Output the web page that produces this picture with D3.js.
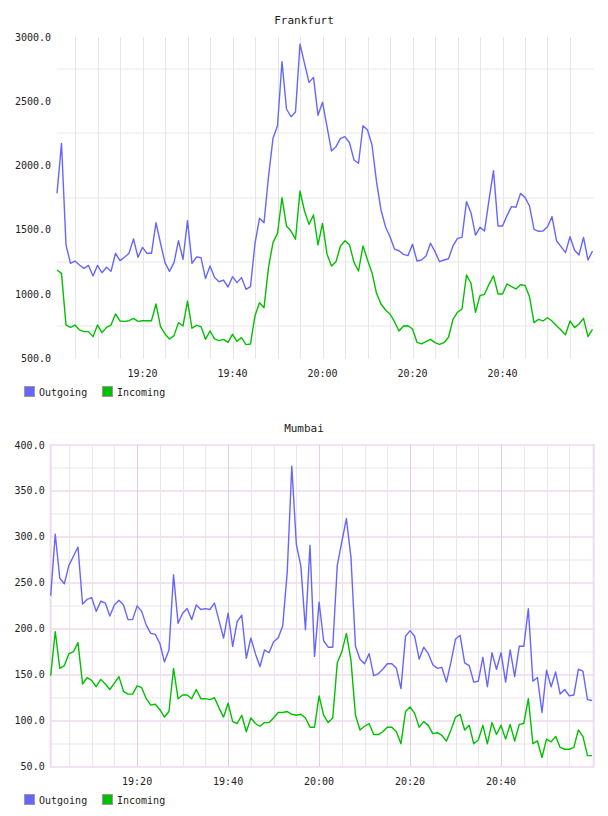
<!DOCTYPE html>
<html><head><meta charset="utf-8">
<script src="https://cdn.jsdelivr.net/npm/d3@7/dist/d3.min.js"></script>
<style>body{margin:0;background:#fff}svg{display:block}text{font-family:"DejaVu Sans Mono",monospace;fill:#222}</style>
</head><body>
<svg id="c" width="608" height="816"></svg>
<script>
const startTime = new Date(2020, 0, 1, 19, 1);
const seriesNames = ["Outgoing", "Incoming"];
const seriesColors = ["#6666ff", "#00c000"];

const frankfurtTicks = [500, 1000, 1500, 2000, 2500, 3000];
const mumbaiTicks = [50, 100, 150, 200, 250, 300, 350, 400];
const timeLabels = ["19:20", "19:40", "20:00", "20:20", "20:40"];

const frankfurtOut = [1784,2173,1383,1240,1258,1227,1201,1224,1142,1224,
1167,1209,1178,1318,1261,1287,1318,1429,1287,1364,
1318,1318,1556,1396,1245,1178,1245,1416,1271,1572,
1240,1289,1284,1121,1219,1131,1097,1110,1056,1136,
1090,1129,1038,1059,1396,1590,1556,1914,2212,2310,
2808,2440,2380,2417,2945,2795,2647,2686,2391,2493,
2303,2114,2147,2212,2225,2178,2044,2018,2310,2277,
2160,1875,1655,1525,1447,1351,1338,1310,1300,1388,
1258,1266,1297,1396,1331,1253,1266,1276,1375,1434,
1442,1720,1634,1460,1520,1491,1733,1961,1530,1530,
1611,1681,1676,1784,1753,1686,1504,1489,1491,1525,
1603,1416,1370,1323,1447,1344,1305,1442,1266,1336];

const frankfurtIn = [1188,1162,760,742,760,722,709,709,670,760,
701,742,760,846,792,789,794,812,789,794,
794,794,924,748,691,652,678,779,753,947,
735,758,748,649,714,652,639,649,626,688,
634,662,608,613,833,934,895,1209,1401,1473,
1751,1530,1491,1427,1802,1647,1543,1616,1383,1551,
1313,1219,1253,1375,1416,1383,1248,1180,1375,1266,
1167,1007,924,877,846,786,714,753,755,729,
626,613,631,649,623,610,623,665,804,860,
885,1149,1085,859,989,999,1077,1142,1002,1002,
1080,1059,1041,1074,1069,981,779,804,792,817,
792,755,722,685,792,740,768,812,670,727];

const mumbaiOut = [236,303,255,249,269,279,289,227,232,234,
219,230,228,214,226,231,226,210,210,225,
219,204,195,194,184,164,177,259,206,217,
222,210,226,221,222,221,228,209,190,217,
181,208,215,168,190,173,159,177,174,186,
190,203,262,377,292,268,199,291,170,229,
187,180,180,269,295,320,278,181,167,162,
173,149,151,156,162,162,157,135,192,198,
192,167,180,173,161,157,158,142,164,189,
193,163,160,142,143,169,137,174,156,174,
142,177,148,181,181,222,143,147,109,155,
137,153,129,134,127,128,156,154,123,122];

const mumbaiIn = [149,197,157,160,173,175,185,140,147,144,
137,145,140,134,141,148,132,129,129,138,
136,124,117,118,112,104,110,157,124,128,
128,124,134,124,124,123,125,114,104,119,
99,97,106,88,103,97,94,98,98,103,
109,109,110,107,106,107,103,93,93,127,
106,98,103,163,175,195,166,106,90,94,
97,85,85,88,93,93,88,75,110,115,
108,93,99,95,86,87,84,78,90,104,
107,90,95,75,79,95,75,98,85,95,
80,96,78,96,97,124,75,78,60,80,
77,83,71,69,69,71,90,83,62,62];

const svg = d3.select("#c");
const minute = 60000;
const times = frankfurtOut.map((_, i) => new Date(startTime.getTime() + i * minute));
const lastTime = times[times.length - 1];

function drawChart(cfg) {
  const g = svg.append("g");
  const x = d3.scaleTime()
    .domain([startTime, lastTime])
    .range([cfg.x0, cfg.x0 + cfg.pxPerMin * (times.length - 1)]);
  const y = d3.scaleLinear().domain([cfg.ticks[0], cfg.ticks[cfg.ticks.length - 1]]).range([cfg.yBottom, cfg.yTop]);
  const xEnd = cfg.xRight;
  const allTicks = d3.timeMinute.every(5).range(new Date(startTime.getTime()), new Date(lastTime.getTime()));
  const fmt = d3.timeFormat("%H:%M");

  const lo = cfg.ticks[0], hi = cfg.ticks[cfg.ticks.length - 1];
  const step = cfg.ticks[1] - cfg.ticks[0];
  const hvals = d3.range(lo, hi + step / 4, step / 2);
  const isMajor = d => ((d - lo) / step) % 1 === 0;

  // horizontal grid
  g.selectAll(".hg").data(hvals.filter(v => cfg.pink ? true : !isMajor(v))).join("line")
    .attr("x1", cfg.xLeft).attr("x2", xEnd)
    .attr("y1", d => Math.round(y(d))).attr("y2", d => Math.round(y(d)))
    .attr("stroke", d => cfg.pink ? (isMajor(d) ? "#f1e3f1" : "#f3f3f3") : "#e8e8e8")
    .attr("stroke-width", cfg.pink ? 2 : 1);

  // vertical grid
  g.selectAll(".vg").data(allTicks).join("line")
    .attr("x1", d => Math.round(x(d)) + 0.5).attr("x2", d => Math.round(x(d)) + 0.5)
    .attr("y1", cfg.yTop).attr("y2", cfg.yBottom)
    .attr("stroke", d => (cfg.pink && d.getMinutes() % 20 === 0) ? "#e2cde2" : cfg.minorV)
    .attr("stroke-width", 1);

  if (cfg.pink) {
    [cfg.xLeft, xEnd].forEach(px => {
      g.append("line").attr("x1", px).attr("x2", px).attr("y1", cfg.yTop - 1).attr("y2", cfg.yBottom + 1)
        .attr("stroke", "#eedcee").attr("stroke-width", 2);
    });
  }

  // y labels
  g.selectAll(".yl").data(cfg.ticks).join("text")
    .attr("x", cfg.xLeft - 6).attr("y", d => y(d)).attr("dy", "0.35em")
    .attr("text-anchor", "end").attr("font-size", 10)
    .text(d => d3.format(".1f")(d));

  // x labels
  const labelTimes = allTicks.filter(d => timeLabels.includes(fmt(d)));
  g.selectAll(".xl").data(labelTimes).join("text")
    .attr("x", d => x(d)).attr("y", cfg.yBottom + 15).attr("dy", "0.35em")
    .attr("text-anchor", "middle").attr("font-size", 10)
    .text(d => fmt(d));

  // title
  g.append("text").attr("x", 304).attr("y", cfg.titleY).attr("dy", "0.35em")
    .attr("text-anchor", "middle").attr("font-size", 11).text(cfg.title);

  // lines
  const line = d3.line().x((d, i) => x(times[i])).y(d => y(d));
  cfg.series.forEach((s, k) => {
    g.append("path").datum(s).attr("d", line).attr("fill", "none")
      .attr("stroke", seriesColors[k]).attr("stroke-width", 1.4).attr("stroke-linejoin", "round");
  });

  // legend
  const lg = g.append("g").attr("transform", `translate(24,${cfg.legendY})`);
  const offs = [0, 78];
  seriesNames.forEach((n, k) => {
    lg.append("rect").attr("x", offs[k] + 0.5).attr("y", -5.5).attr("width", 10).attr("height", 10)
      .attr("fill", seriesColors[k]).attr("stroke", "#999").attr("stroke-width", 1);
    lg.append("text").attr("x", offs[k] + 15).attr("y", 0).attr("dy", "0.35em")
      .attr("font-size", 10).text(n);
  });
}

drawChart({
  title: "Frankfurt", titleY: 20,
  x0: 57, pxPerMin: 4.5, xLeft: 57, xRight: 594,
  yTop: 37, yBottom: 358.5, ticks: frankfurtTicks,
  minorV: "#e6e6e6", pink: false,
  series: [frankfurtOut, frankfurtIn], legendY: 392
});
drawChart({
  title: "Mumbai", titleY: 428.5,
  x0: 50.7, pxPerMin: 4.549, xLeft: 50.7, xRight: 593.7,
  yTop: 445, yBottom: 766.7, ticks: mumbaiTicks,
  minorV: "#ebe4eb", pink: true,
  series: [mumbaiOut, mumbaiIn], legendY: 800
});
</script>
</body></html>
